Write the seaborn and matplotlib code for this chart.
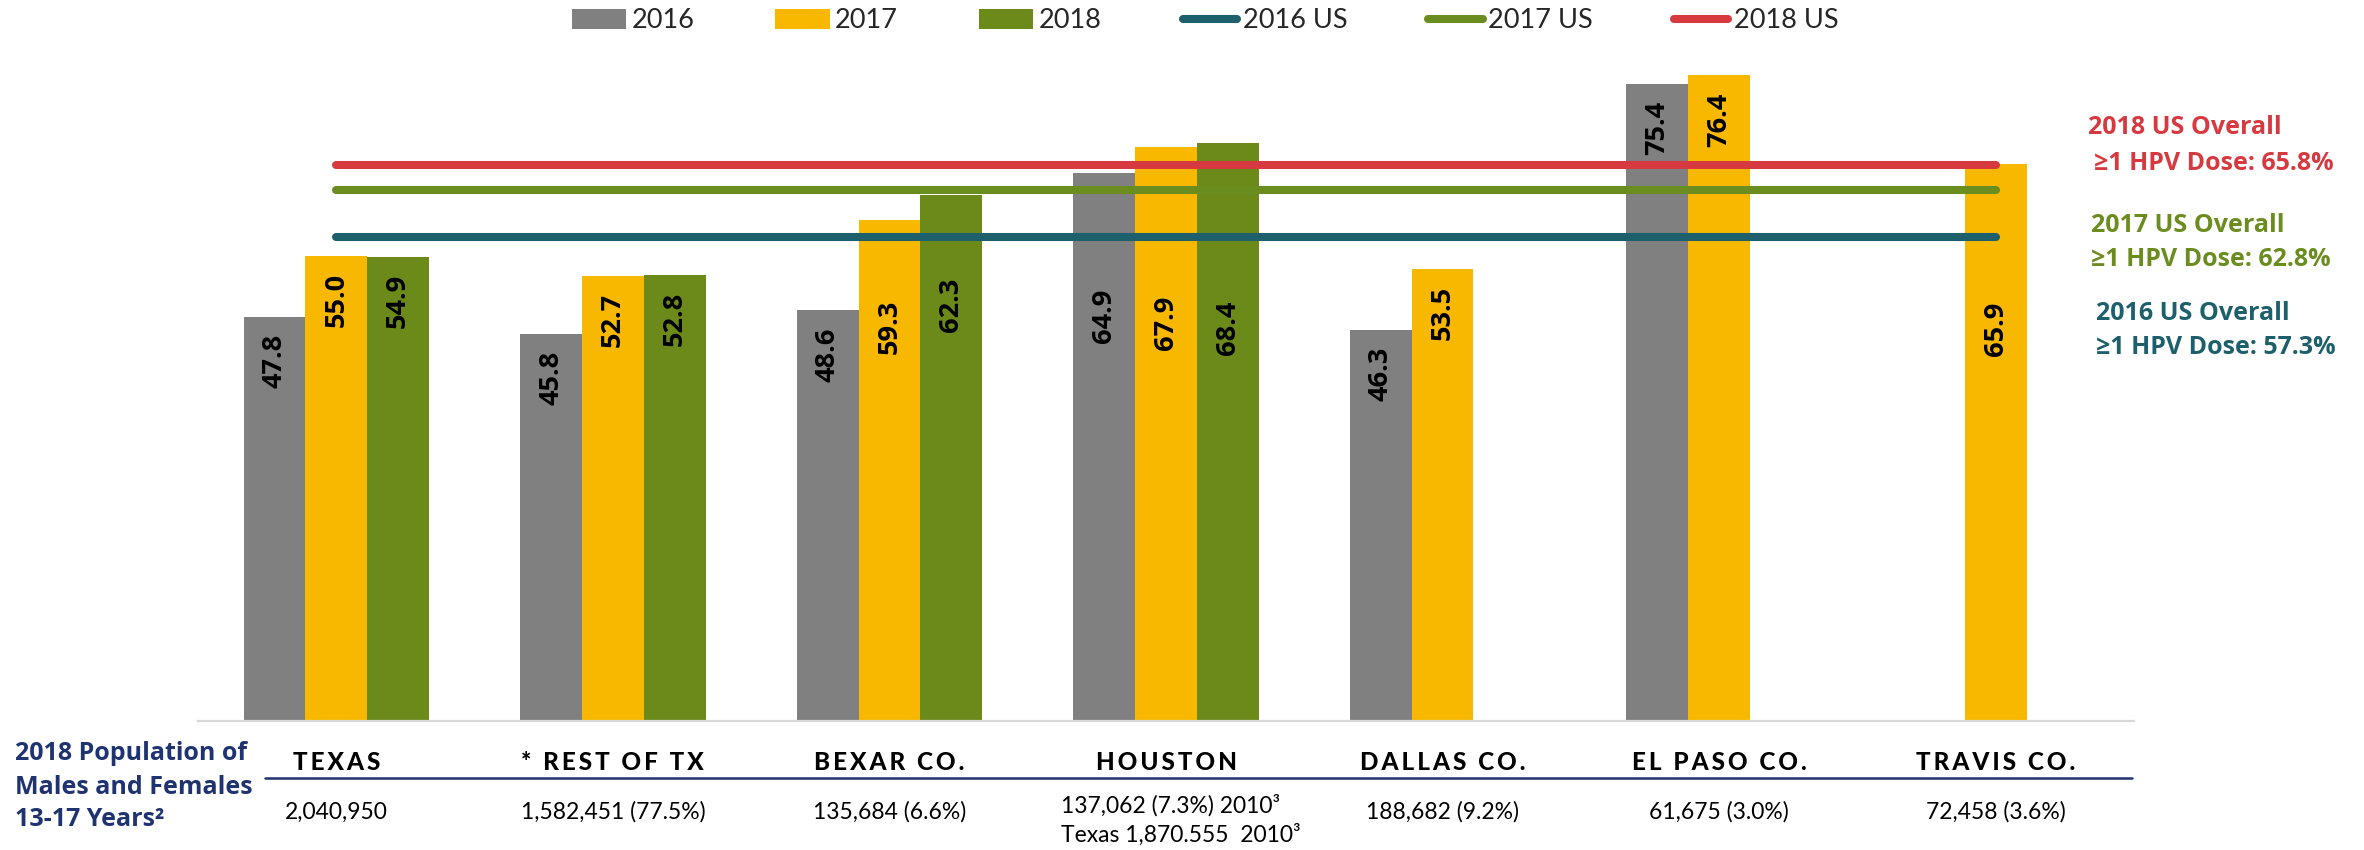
import numpy as np
import pandas as pd
import matplotlib
matplotlib.use("Agg")
import matplotlib.pyplot as plt
from matplotlib.patches import Patch
from matplotlib.lines import Line2D
import seaborn as sns

# ---------------- data ----------------
categories = ["TEXAS", "* REST OF TX", "BEXAR CO.", "HOUSTON", "DALLAS CO.", "EL PASO CO.", "TRAVIS CO."]
years = ["2016", "2017", "2018"]
v2016 = [47.8, 45.8, 48.6, 64.9, 46.3, 75.4, np.nan]
v2017 = [55.0, 52.7, 59.3, 67.9, 53.5, 76.4, 65.9]
v2018 = [54.9, 52.8, 62.3, 68.4, np.nan, np.nan, np.nan]
us_labels = ["2016 US", "2017 US", "2018 US"]
us_values = [57.3, 62.8, 65.8]
us_notes = [("2016 US Overall", "≥1 HPV Dose: 57.3%"),
            ("2017 US Overall", "≥1 HPV Dose: 62.8%"),
            ("2018 US Overall", "≥1 HPV Dose: 65.8%")]
population = ["2,040,950", "1,582,451 (77.5%)", "135,684 (6.6%)",
              "137,062 (7.3%) 2010³\nTexas 1,870.555  2010³",
              "188,682 (9.2%)", "61,675 (3.0%)", "72,458 (3.6%)"]
pop_title = ["2018 Population of", "Males and Females", "13-17 Years²"]

bar_colors = ["#808080", "#F9B800", "#6B8A1A"]
line_colors = ["#1D5F6B", "#6B8C1F", "#D63A40"]
navy = "#1F3370"

# label placement (pixels below bar top); labels moved below the US lines
default_drop = 17
label_drop = {("BEXAR CO.", "2017"): 80, ("BEXAR CO.", "2018"): 83,
              ("HOUSTON", "2016"): 116, ("HOUSTON", "2017"): 148,
              ("HOUSTON", "2018"): 158, ("TRAVIS CO.", "2017"): 137}

rows = []
for yr, vals in zip(years, [v2016, v2017, v2018]):
    for c, v in zip(categories, vals):
        rows.append({"category": c, "year": yr, "value": v})
df = pd.DataFrame(rows).dropna()

# ---------------- figure ----------------
sns.set_theme(style="white")
plt.rcParams["font.family"] = ["Lato", "DejaVu Sans"]

W, H = 2364, 850
fig = plt.figure(figsize=(W / 100, H / 100), dpi=100)
ax = fig.add_axes([198 / W, 1 - 721 / H, (2134 - 198) / W, (721 - 45) / H])

sns.barplot(data=df, x="category", y="value", hue="year", order=categories,
            hue_order=years, palette=bar_colors, width=0.67, errorbar=None,
            saturation=1, linewidth=0, ax=ax, legend=False)

ax.set_ylim(0, 80)
ax.set_xlim(-0.5, len(categories) - 0.5)
ax.set_xlabel("")
ax.set_ylabel("")
ax.set_xticks([])
ax.set_yticks([])
for s in ["left", "right", "top"]:
    ax.spines[s].set_visible(False)
ax.spines["bottom"].set_color("#D9D9D9")
ax.spines["bottom"].set_linewidth(1.6)

# bar value labels
for yr, cont in zip(years, ax.containers):
    for bar in cont:
        h = bar.get_height()
        if np.isnan(h):
            continue
        xc = bar.get_x() + bar.get_width() / 2
        cat = categories[int(round(xc))]
        drop = label_drop.get((cat, yr), default_drop)
        ax.annotate(f"{h:.1f}", (xc, h),
                    xytext=(0, -drop * 0.72), textcoords="offset points",
                    rotation=90, ha="center", va="top", fontsize=19.5,
                    fontweight="bold", color="black", zorder=5,
                    family=["Open Sans", "DejaVu Sans"])

# US reference lines
for val, col in zip(us_values, line_colors):
    ax.plot([0, len(categories) - 1], [val, val], color=col, lw=5.8,
            solid_capstyle="round", zorder=3)

# right annotations
note_pos = [(2096, 313, 2096, 348), (2091, 225, 2091, 260), (2088, 128, 2094, 163)]
for (t1, t2), col, (x1, y1, x2, y2) in zip(us_notes, line_colors, note_pos):
    fig.text(x1 / W, 1 - y1 / H, t1, color=col, fontsize=18, fontweight="bold",
             ha="left", va="center", family=["Open Sans", "DejaVu Sans"])
    fig.text(x2 / W, 1 - y2 / H, t2, color=col, fontsize=18, fontweight="bold",
             ha="left", va="center", family=["Open Sans", "DejaVu Sans"])

# category labels (letter spaced)
trans = ax.get_xaxis_transform()
for i, c in enumerate(categories):
    lab = "\u2009".join(list(c))
    ax.text(i, -(763 - 721) / (721 - 45), lab, transform=trans, ha="center",
            va="center", fontsize=17.5, fontweight="black", color="black",
            family=["Lato", "DejaVu Sans"], clip_on=False)

# navy underline
fig.add_artist(Line2D([265 / W, 2132 / W], [1 - 778 / H, 1 - 778 / H],
                      color=navy, lw=1.8))

# population values
for i, p in enumerate(population):
    if "\n" in p:
        l1, l2 = p.split("\n")
        ax.text(i - 0.38, -(805 - 721) / (721 - 45), l1, transform=trans,
                ha="left", va="center", fontsize=16.5, color="black", clip_on=False)
        ax.text(i - 0.38, -(835 - 721) / (721 - 45), l2, transform=trans,
                ha="left", va="center", fontsize=16.5, color="black", clip_on=False)
    else:
        ax.text(i, -(812 - 721) / (721 - 45), p, transform=trans, ha="center",
                va="center", fontsize=16.5, color="black", clip_on=False)

# left population title
for t, y in zip(pop_title, [753, 787, 820]):
    fig.text(15 / W, 1 - y / H, t, color=navy, fontsize=18, fontweight="bold",
             ha="left", va="center", family=["Open Sans", "DejaVu Sans"])

# legend
handles = [Patch(facecolor=c, edgecolor="none") for c in bar_colors] + \
          [Line2D([0], [0], color=c, lw=5.8, solid_capstyle="round") for c in line_colors]
labels = years + us_labels
fig.legend(handles, labels, loc="center", bbox_to_anchor=(1205 / W, 1 - 21 / H),
           ncol=6, frameon=False, fontsize=19.5, handlelength=2.0,
           handleheight=0.75, handletextpad=0.2, columnspacing=3.0,
           borderaxespad=0, borderpad=0)

fig.savefig("out.png", dpi=100)
